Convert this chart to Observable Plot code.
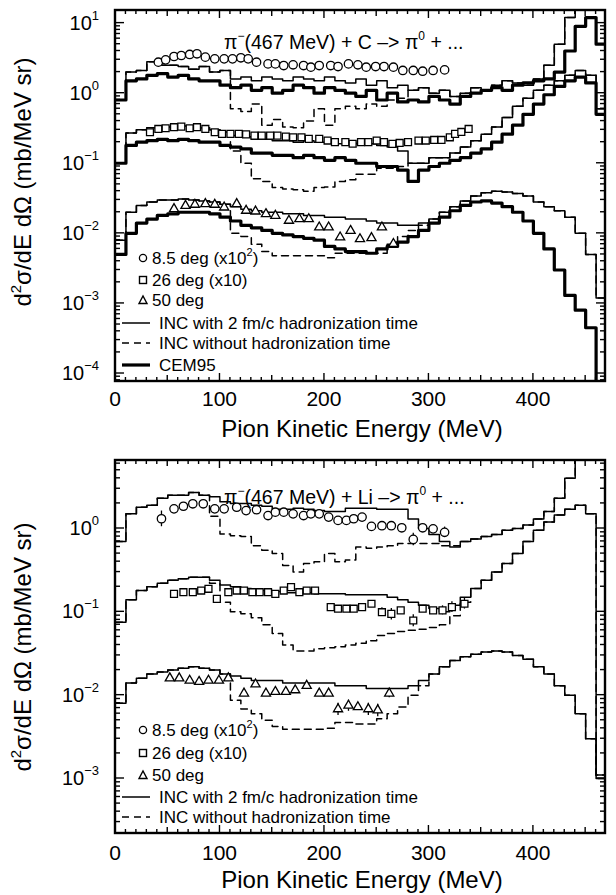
<!DOCTYPE html>
<html><head><meta charset="utf-8">
<script src="https://cdn.jsdelivr.net/npm/d3@7"></script>
<script src="https://cdn.jsdelivr.net/npm/@observablehq/plot@0.6"></script>
<style>
body{margin:0;background:#fff}
#chart{width:616px}
#chart svg{display:block;background:#fff}
</style></head>
<body><div id="chart"></div>
<script>
// ---------- data ----------
const edges = [0,10,20,30,40,50,60,70,80,90,100,110,120,130,140,150,160,170,180,190,200,210,220,230,240,250,260,270,280,290,300,310,320,330,340,350,360,370,380,390,400,410,420,430,440,450,460,470];

// Top panel: pi- + C
const C8_thin = [0.8,2.0,2.1,2.8,2.5,2.5,2.4,2.2,2.4,2.0,2.1,1.6,1.7,1.5,1.7,1.6,1.5,1.7,1.6,1.5,1.7,1.5,1.4,1.6,1.3,1.5,1.2,1.3,1.1,1.2,1.0,1.1,0.9,1.0,1.2,1.1,1.3,1.5,1.4,1.3,1.6,2.5,5,12,20,20,20];
const C8_dash = [0.8,2.0,2.1,2.8,2.5,2.5,2.4,2.2,2.4,2.0,2.1,0.6,0.55,0.7,0.35,0.42,0.33,0.32,0.4,0.6,0.35,0.6,0.65,0.6,0.7,0.65,0.8,0.85,1.1,1.2,1.0,1.1,0.9,1.0,1.2,1.1,1.3,1.5,1.4,1.3,1.6,2.5,5,12,20,20,20];
const C8_cem  = [0.8,1.5,1.6,1.8,1.9,1.7,1.8,1.6,1.5,1.5,1.3,1.2,1.3,1.1,1.2,1.0,1.1,1.3,1.2,1.0,1.2,1.1,1.0,0.9,1.1,0.8,1.0,0.75,0.8,0.75,0.9,0.8,0.7,0.9,1.0,1.1,1.2,1.1,1.3,1.4,1.5,1.6,2.0,4,9,12,5];
const C26_thin = [0.1,0.27,0.3,0.32,0.33,0.33,0.34,0.33,0.32,0.3,0.28,0.25,0.24,0.22,0.22,0.21,0.21,0.2,0.21,0.2,0.2,0.19,0.2,0.19,0.19,0.18,0.17,0.15,0.1,0.1,0.12,0.12,0.14,0.17,0.21,0.26,0.33,0.45,0.65,0.85,1.1,1.3,1.5,1.8,2.1,1.8,0.6];
const C26_dash = [0.1,0.27,0.3,0.32,0.33,0.33,0.34,0.33,0.32,0.3,0.28,0.15,0.1,0.06,0.055,0.045,0.043,0.042,0.04,0.045,0.046,0.055,0.058,0.07,0.07,0.085,0.085,0.09,0.1,0.1,0.12,0.12,0.14,0.17,0.21,0.26,0.33,0.45,0.65,0.85,1.1,1.3,1.5,1.8,2.1,1.8,0.6];
const C26_cem  = [0.1,0.18,0.2,0.21,0.22,0.21,0.22,0.21,0.2,0.2,0.18,0.17,0.16,0.14,0.14,0.13,0.13,0.12,0.13,0.12,0.11,0.12,0.11,0.1,0.1,0.09,0.09,0.08,0.055,0.08,0.09,0.1,0.11,0.12,0.14,0.16,0.2,0.26,0.35,0.5,0.7,0.95,1.25,1.5,1.7,1.4,0.5];
const C50_thin = [0.008,0.02,0.025,0.028,0.03,0.03,0.031,0.03,0.029,0.028,0.026,0.024,0.022,0.021,0.02,0.02,0.019,0.019,0.018,0.018,0.017,0.017,0.016,0.016,0.015,0.014,0.014,0.013,0.013,0.014,0.016,0.02,0.024,0.029,0.034,0.038,0.04,0.039,0.037,0.034,0.028,0.024,0.021,0.017,0.01,0.005,0.0012];
const C50_dash = [0.008,0.02,0.025,0.028,0.03,0.03,0.031,0.03,0.029,0.028,0.026,0.01,0.009,0.007,0.0055,0.0048,0.0048,0.0048,0.0048,0.0048,0.0045,0.0052,0.0052,0.0052,0.0052,0.0052,0.007,0.009,0.011,0.013,0.016,0.02,0.024,0.029,0.034,0.038,0.04,0.039,0.037,0.034,0.028,0.024,0.021,0.017,0.01,0.005,0.0012];
const C50_cem  = [0.005,0.01,0.014,0.016,0.018,0.019,0.02,0.02,0.02,0.019,0.017,0.015,0.013,0.012,0.011,0.01,0.0095,0.009,0.0085,0.008,0.0065,0.006,0.0055,0.0055,0.0052,0.006,0.0065,0.0075,0.009,0.011,0.014,0.017,0.021,0.025,0.028,0.029,0.027,0.024,0.02,0.015,0.01,0.006,0.003,0.0013,0.0008,0.00045,0.00001];

const C8_ptsX = [41,48,56,63,71,78,86,95,104,112,120,127,135,146,153,161,170,180,187,195,206,213,223,232,240,249,257,266,275,285,294,304,315];
const C8_ptsY = [2.77,2.99,3.34,3.45,3.57,3.65,3.27,3.09,3.09,3.09,3.2,3.09,2.77,2.62,2.62,2.48,2.54,2.48,2.35,2.48,2.48,2.4,2.62,2.54,2.35,2.4,2.4,2.35,2.11,2.11,2.06,2.11,2.15];
const C26_ptsX = [33,41,48,56,63,71,78,86,95,102,110,118,125,133,140,148,155,163,170,178,185,195,203,210,220,227,235,242,250,257,265,272,280,290,297,305,312,320,325,331,338];
const C26_ptsY = [0.277,0.309,0.316,0.327,0.334,0.316,0.327,0.309,0.277,0.263,0.263,0.263,0.258,0.248,0.248,0.248,0.248,0.24,0.235,0.235,0.223,0.223,0.211,0.2,0.2,0.19,0.2,0.2,0.211,0.2,0.189,0.195,0.2,0.211,0.211,0.215,0.215,0.235,0.263,0.28,0.309];
const C50_ptsX = [56,67,76,86,95,104,116,125,134,144,153,166,176,185,195,204,215,225,234,245,255,266];
const C50_ptsY = [0.0223,0.0248,0.0257,0.0263,0.0257,0.0235,0.0263,0.0211,0.0206,0.0189,0.0179,0.0152,0.016,0.016,0.0122,0.0122,0.0088,0.0109,0.0083,0.0086,0.0122,0.0071];

// Bottom panel: pi- + Li
const L8_thin = [0.7,1.5,1.8,1.9,2.3,2.5,2.5,2.7,2.5,2.4,2.1,2.0,2.0,1.9,1.85,1.7,1.7,1.75,1.7,1.65,1.6,1.6,1.75,1.75,1.75,1.7,1.7,1.7,1.3,1.0,0.85,0.7,0.6,0.7,0.75,0.8,0.85,0.95,1.0,1.1,1.3,1.6,2.3,4,8,10,10];
const L8_dash = [0.7,1.5,1.8,1.9,2.3,2.5,2.5,2.7,2.5,1.4,0.86,0.82,0.8,0.62,0.55,0.5,0.36,0.3,0.38,0.4,0.5,0.4,0.42,0.6,0.58,0.6,0.62,0.66,0.66,0.66,0.66,0.62,0.62,0.7,0.75,0.8,0.85,0.95,1.0,1.1,1.3,1.6,2.3,4,8,10,10];
const L26_thin = [0.075,0.14,0.18,0.2,0.22,0.24,0.25,0.26,0.26,0.24,0.21,0.2,0.19,0.18,0.18,0.175,0.17,0.17,0.17,0.165,0.165,0.165,0.16,0.16,0.16,0.16,0.15,0.14,0.13,0.12,0.11,0.1,0.12,0.15,0.19,0.24,0.3,0.38,0.5,0.7,0.95,1.2,1.45,1.7,1.9,1.5,0.001];
const L26_dash = [0.075,0.14,0.18,0.2,0.22,0.24,0.25,0.26,0.26,0.22,0.13,0.1,0.095,0.085,0.07,0.055,0.04,0.034,0.034,0.036,0.037,0.038,0.04,0.042,0.045,0.052,0.055,0.058,0.06,0.062,0.065,0.07,0.09,0.13,0.19,0.24,0.3,0.38,0.5,0.7,0.95,1.2,1.45,1.7,1.9,1.5,0.001];
const L50_thin = [0.008,0.014,0.016,0.018,0.019,0.02,0.021,0.022,0.021,0.02,0.018,0.017,0.016,0.015,0.015,0.015,0.014,0.014,0.014,0.014,0.014,0.013,0.013,0.013,0.012,0.012,0.012,0.012,0.013,0.015,0.018,0.022,0.026,0.029,0.031,0.033,0.034,0.033,0.03,0.027,0.022,0.018,0.013,0.01,0.006,0.003,0.0011];
const L50_dash = [0.008,0.014,0.016,0.018,0.019,0.02,0.021,0.022,0.021,0.02,0.018,0.0087,0.0068,0.006,0.005,0.0042,0.0039,0.0039,0.0039,0.0039,0.004,0.0047,0.0047,0.0045,0.0045,0.0052,0.006,0.0072,0.01,0.013,0.018,0.022,0.026,0.029,0.031,0.033,0.034,0.033,0.03,0.027,0.022,0.018,0.013,0.01,0.006,0.003,0.0011];

const L8_ptsX = [44,56,65,74,84,95,104,116,125,135,146,153,161,170,180,187,195,204,213,221,228,236,245,255,264,274,285,294,304,315];
const L8_ptsY = [1.31,1.72,1.85,1.98,1.98,1.72,1.72,1.8,1.64,1.68,1.43,1.57,1.57,1.5,1.43,1.5,1.5,1.37,1.25,1.25,1.31,1.37,1.06,1.08,1.08,1.02,0.74,1.02,0.99,0.9];
const L26_ptsX = [56,65,74,82,89,97,108,116,123,131,138,146,153,161,168,176,183,191,206,213,221,228,236,245,255,264,273,285,294,304,313,322,334];
const L26_ptsY = [0.164,0.172,0.172,0.18,0.189,0.143,0.172,0.18,0.18,0.172,0.172,0.172,0.164,0.18,0.198,0.172,0.18,0.18,0.114,0.109,0.109,0.109,0.114,0.125,0.099,0.0946,0.104,0.0787,0.109,0.104,0.104,0.114,0.125];
const L50_ptsX = [52,61,71,80,89,99,108,123,134,144,153,163,172,183,195,204,213,223,232,242,251,262];
const L50_ptsY = [0.016,0.016,0.015,0.0145,0.015,0.015,0.016,0.0105,0.0135,0.0105,0.011,0.011,0.0115,0.013,0.0105,0.0105,0.0068,0.0075,0.0072,0.0068,0.0066,0.0105];

// Li error bars (only points where bars are visible)
const L8_ebX = [44,161,285,315];
const L8_ebLo = [1.05,1.45,0.62,0.78];
const L8_ebHi = [1.62,1.72,0.88,1.04];
const L26_ebX = [255,264,285,313,322,334];
const L26_ebLo = [0.088,0.08,0.066,0.092,0.098,0.108];
const L26_ebHi = [0.112,0.11,0.092,0.118,0.132,0.145];
const L50_ebX = [213,223,242,251,262];
const L50_ebLo = [0.0057,0.0064,0.0057,0.0055,0.0093];
const L50_ebHi = [0.008,0.0087,0.008,0.0078,0.0118];

const xTickLabels = [0,100,200,300,400];
const topYExps = [-4,-3,-2,-1,0,1];
const botYExps = [-3,-2,-1,0];
const legendTexts = ["8.5 deg (x10", "26 deg (x10)", "50 deg", "INC with 2 fm/c hadronization time", "INC without hadronization time", "CEM95"];
const xTitle = "Pion Kinetic Energy (MeV)";
const topReaction = ["π", "−", "(467 MeV) + C –> π", "0", " + ..."];
const botReaction = ["π", "−", "(467 MeV) + Li –> π", "0", " + ..."];

// ---------- drawing ----------
const FONT = "'Liberation Sans', Arial, Helvetica, sans-serif";
const THIN = 1.5, THICK = 3.2, DASH = "7,5";

function stepRows(vals) {
  return edges.map((e, i) => ({x: e, y: vals[Math.min(i, vals.length - 1)]}));
}
function pts(xs, ys) { return xs.map((x, i) => ({x, y: ys[i]})); }
function bars(xs, lo, hi) { return xs.map((x, i) => ({x, y1: lo[i], y2: hi[i]})); }

function decor(cfg) {
  return (index, scales, values, dim) => {
    const x = scales.x, y = scales.y;
    const L = dim.marginLeft, R = dim.width - dim.marginRight, T = dim.marginTop, B = dim.height - dim.marginBottom;
    const g = d3.create("svg:g").attr("font-family", FONT).attr("fill", "black").attr("text-anchor", "start");
    const tk = g.append("g").attr("stroke", "black").attr("stroke-width", 1.4).attr("fill", "none");
    for (let v = 0; v <= 460; v += 10) {
      const px = x(v), len = v % 100 === 0 ? 8 : (v % 50 === 0 ? 6 : 4);
      tk.append("line").attr("x1", px).attr("x2", px).attr("y1", B).attr("y2", B - len);
      tk.append("line").attr("x1", px).attr("x2", px).attr("y1", T).attr("y2", T + len);
    }
    for (let k = -6; k <= 2; k++) for (let m = 1; m <= 9; m++) {
      const v = m * Math.pow(10, k);
      if (v < cfg.ydom[0] || v > cfg.ydom[1]) continue;
      const py = y(v), len = m === 1 ? 9 : 5;
      tk.append("line").attr("x1", L).attr("x2", L + len).attr("y1", py).attr("y2", py);
      tk.append("line").attr("x1", R).attr("x2", R - len).attr("y1", py).attr("y2", py);
    }
    g.append("rect").attr("x", L).attr("y", T).attr("width", R - L).attr("height", B - T)
      .attr("fill", "none").attr("stroke", "black").attr("stroke-width", 2.4);
    for (const v of xTickLabels) {
      g.append("text").attr("x", x(v)).attr("y", B + cfg.xlabOff).attr("text-anchor", "middle")
        .attr("font-size", 21).attr("dy", "0.35em").text(v);
    }
    for (const e of cfg.yExps) {
      const t = g.append("text").attr("x", L - 16).attr("y", y(Math.pow(10, e)) + 7).attr("text-anchor", "end");
      t.append("tspan").attr("font-size", 20).text("10");
      t.append("tspan").attr("font-size", 13).attr("dy", -10).text(e < 0 ? "−" + (-e) : String(e));
    }
    g.append("text").attr("x", 362).attr("y", B + cfg.xtitleOff).attr("text-anchor", "middle")
      .attr("font-size", 24).attr("dy", "0.35em").text(xTitle);
    const yt = g.append("text").attr("transform", `translate(31,${cfg.ytitleY}) rotate(-90)`)
      .attr("text-anchor", "middle").attr("font-size", 24);
    yt.append("tspan").text("d");
    yt.append("tspan").attr("font-size", 15).attr("dy", -10).text("2");
    yt.append("tspan").attr("dy", 10).text("σ/dE dΩ (mb/MeV sr)");
    const an = g.append("text").attr("x", 224).attr("y", T + cfg.annOff).attr("font-size", 19.5).attr("text-anchor", "start");
    an.append("tspan").text(cfg.reaction[0]);
    an.append("tspan").attr("font-size", 12).attr("dy", -9).text(cfg.reaction[1]);
    an.append("tspan").attr("dy", 9).text(cfg.reaction[2]);
    an.append("tspan").attr("font-size", 12).attr("dy", -9).text(cfg.reaction[3]);
    an.append("tspan").attr("dy", 9).text(cfg.reaction[4]);
    const lg = g.append("g").attr("text-anchor", "start");
    cfg.legendRows.forEach((dy, i) => {
      const yy = B + dy;
      const fs = 17;
      if (i === 0) {
        lg.append("circle").attr("cx", 143).attr("cy", yy).attr("r", 3.6).attr("fill", "none").attr("stroke", "black").attr("stroke-width", 1.3);
      } else if (i === 1) {
        lg.append("rect").attr("x", 139.5).attr("y", yy - 3.5).attr("width", 7).attr("height", 7).attr("fill", "none").attr("stroke", "black").attr("stroke-width", 1.4);
      } else if (i === 2) {
        lg.append("path").attr("d", `M139,${yy + 3.5}L143,${yy - 4}L147,${yy + 3.5}Z`).attr("fill", "none").attr("stroke", "black").attr("stroke-width", 1.4);
      } else {
        lg.append("line").attr("x1", 122).attr("x2", 150).attr("y1", yy).attr("y2", yy)
          .attr("stroke", "black").attr("stroke-width", i === 5 ? THICK : THIN)
          .attr("stroke-dasharray", i === 4 ? DASH : null);
      }
      const tx = lg.append("text").attr("x", i < 3 ? 152 : 159).attr("y", yy + 6).attr("font-size", fs).attr("text-anchor", "start");
      tx.append("tspan").text(legendTexts[i]);
      if (i === 0) {
        tx.append("tspan").attr("font-size", 11).attr("dy", -8).text("2");
        tx.append("tspan").attr("dy", 8).text(")");
      }
    });
    return g.node();
  };
}

function panel(cfg) {
  const lineMarks = cfg.lines.map(s => Plot.line(stepRows(s.v), {
    x: "x", y: "y", curve: "step-after", stroke: "black", strokeWidth: s.w,
    strokeDasharray: s.dash || null, clip: true
  }));
  const barMarks = (cfg.bars || []).map(b => Plot.ruleX(bars(b.xs, b.lo, b.hi), {
    x: "x", y1: "y1", y2: "y2", stroke: "black", strokeWidth: 1.3, clip: true
  }));
  const dotMarks = cfg.points.map(p => Plot.dot(pts(p.xs, p.ys), {
    x: "x", y: "y", symbol: p.symbol, r: p.r, stroke: "black", strokeWidth: 1.3, fill: "white", clip: true
  }));
  return Plot.plot({
    width: 616, height: cfg.height,
    marginLeft: 115, marginRight: 11, marginTop: cfg.mt, marginBottom: cfg.mb,
    x: {domain: [0, 469], axis: null},
    y: {type: "log", domain: cfg.ydom, axis: null},
    marks: [...lineMarks, ...barMarks, ...dotMarks, decor(cfg)]
  });
}

const topPlot = panel({
  height: 447, mt: 10, mb: 66,
  ydom: [Math.pow(10, -4.114), Math.pow(10, 1.18)],
  yExps: topYExps, xlabOff: 18, xtitleOff: 48, ytitleY: 182, annOff: 39,
  reaction: topReaction,
  legendRows: [-123, -101, -81, -58, -38, -16],
  lines: [
    {v: C8_dash, w: THIN, dash: DASH}, {v: C26_dash, w: THIN, dash: DASH}, {v: C50_dash, w: THIN, dash: DASH},
    {v: C8_thin, w: THIN}, {v: C26_thin, w: THIN}, {v: C50_thin, w: THIN},
    {v: C8_cem, w: THICK}, {v: C26_cem, w: THICK}, {v: C50_cem, w: THICK}
  ],
  points: [
    {xs: C8_ptsX, ys: C8_ptsY, symbol: "circle", r: 4.2},
    {xs: C26_ptsX, ys: C26_ptsY, symbol: "square", r: 3.9},
    {xs: C50_ptsX, ys: C50_ptsY, symbol: "triangle", r: 3.4}
  ]
});
const bottomPlot = panel({
  height: 448, mt: 13, mb: 62,
  ydom: [Math.pow(10, -3.66), Math.pow(10, 0.816)],
  yExps: botYExps, xlabOff: 20, xtitleOff: 47, ytitleY: 200, annOff: 44,
  reaction: botReaction,
  legendRows: [-103, -80, -58, -36, -16],
  lines: [
    {v: L8_dash, w: THIN, dash: DASH}, {v: L26_dash, w: THIN, dash: DASH}, {v: L50_dash, w: THIN, dash: DASH},
    {v: L8_thin, w: THIN}, {v: L26_thin, w: THIN}, {v: L50_thin, w: THIN}
  ],
  bars: [
    {xs: L8_ebX, lo: L8_ebLo, hi: L8_ebHi},
    {xs: L26_ebX, lo: L26_ebLo, hi: L26_ebHi},
    {xs: L50_ebX, lo: L50_ebLo, hi: L50_ebHi}
  ],
  points: [
    {xs: L8_ptsX, ys: L8_ptsY, symbol: "circle", r: 4.2},
    {xs: L26_ptsX, ys: L26_ptsY, symbol: "square", r: 3.9},
    {xs: L50_ptsX, ys: L50_ptsY, symbol: "triangle", r: 3.4}
  ]
});
document.getElementById("chart").append(topPlot, bottomPlot);
</script>
</body></html>
